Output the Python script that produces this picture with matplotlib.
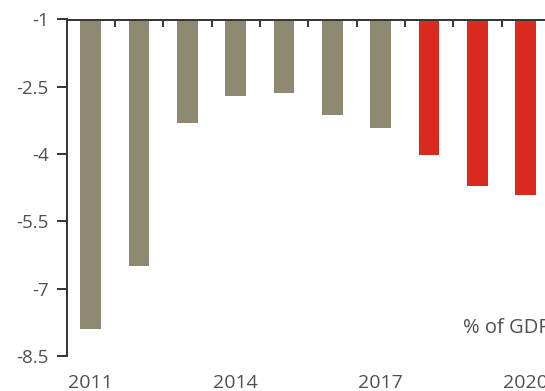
import matplotlib

matplotlib.use("Agg")
import matplotlib.pyplot as plt
import numpy as np

years = [2011, 2012, 2013, 2014, 2015, 2016, 2017, 2018, 2019, 2020]
balance = [-7.90, -6.49, -3.30, -2.71, -2.63, -3.12, -3.42, -4.03, -4.72, -4.92]
is_forecast = [False] * 7 + [True] * 3
y_ticks = [-1, -2.5, -4, -5.5, -7, -8.5]
label_years = [2011, 2014, 2017, 2020]

TAN = "#8f8870"
RED = "#da291e"
GREY = "#505050"

plt.rcParams["font.family"] = ["Open Sans", "DejaVu Sans"]

fig = plt.figure(figsize=(5.45, 3.91), dpi=100)
ax = fig.add_axes([67 / 545, 1 - 356 / 391, 1 - 67 / 545, (356 - 19.5) / 391])

x = np.arange(len(years))
base = -1
heights = [v - base for v in balance]
colors = [RED if f else TAN for f in is_forecast]
ax.bar(x, heights, bottom=base, width=0.43, color=colors)

ax.set_ylim(-8.5, -1)
ax.set_xlim(-0.49, 9.40)
ax.set_yticks(y_ticks)
ax.set_yticklabels([f"{t:g}" for t in y_ticks], fontsize=13.5, color=GREY)

# year labels below, boundary ticks on the top spine
ax.set_xticks([years.index(y) for y in label_years])
ax.set_xticklabels([str(y) for y in label_years], fontsize=14, color=GREY)
ax.tick_params(axis="x", which="major", length=0, pad=13)
ax.set_xticks(x[:-1] + 0.5, minor=True)
ax.tick_params(axis="x", which="minor", top=True, bottom=False, direction="in",
               length=5, width=1.4, color="#333333")
ax.tick_params(axis="y", length=7, width=1.4, color="#333333", pad=6)

for side in ["right", "bottom"]:
    ax.spines[side].set_visible(False)
for side in ["left", "top"]:
    ax.spines[side].set_linewidth(1.4)
    ax.spines[side].set_color("#333333")

fig.text(463 / 545, 1 - 328 / 391, "% of GDP", fontsize=14.5, color=GREY,
         ha="left", va="center")

fig.savefig("out.png", dpi=100)
